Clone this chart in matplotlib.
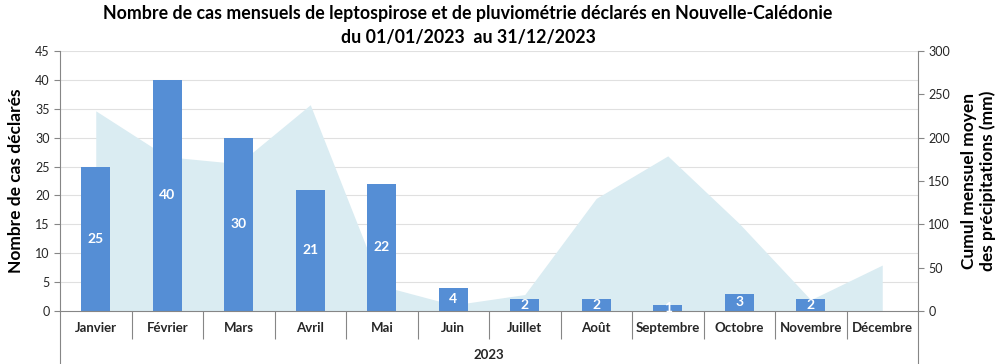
import numpy as np
import matplotlib.pyplot as plt

mois = ['Janvier', 'Février', 'Mars', 'Avril', 'Mai', 'Juin', 'Juillet',
        'Août', 'Septembre', 'Octobre', 'Novembre', 'Décembre']
cas = [25, 40, 30, 21, 22, 4, 2, 2, 1, 3, 2, 0]
pluie = [231, 178, 170, 238, 29, 7, 19, 130, 179, 101, 13, 53]
annee = '2023'

plt.rcParams['font.family'] = ['Lato', 'DejaVu Sans']

fig = plt.figure(figsize=(10.02, 3.64), dpi=100)
ax = fig.add_axes([60/1002, 1-311/364, (918-60)/1002, 260/364])
ax2 = ax.twinx()
# bars above the area
ax.set_zorder(ax2.get_zorder() + 1)
ax.patch.set_visible(False)

x = np.arange(len(mois))
ax2.fill_between(x, pluie, 0, color='#daecf2', lw=0, zorder=1)
ax2.set_ylim(0, 300)
ax2.set_yticks(np.arange(0, 301, 50))

ax.set_ylim(0, 45)
ax.set_yticks(np.arange(0, 46, 5))
ax.set_xlim(-0.5, len(mois) - 0.5)
# horizontal grid behind the area, at the left-axis ticks
for t in ax.get_yticks()[1:]:
    ax2.axhline(t * 300 / 45, color='#e0e0e0', lw=0.8, zorder=0)

bars = ax.bar(x, cas, width=0.4, color='#558ed5', zorder=2)
for b, v in zip(bars, cas):
    if v > 0:
        ax.text(b.get_x() + b.get_width()/2, v/2, str(v), ha='center', va='center',
                color='white', fontsize=10, fontweight='bold', zorder=3)

grey = '#868686'
for a in (ax, ax2):
    a.spines['top'].set_visible(False)
    a.spines['left'].set_color(grey)
    a.spines['right'].set_color(grey)
    a.spines['bottom'].set_color(grey)
    a.tick_params(axis='y', colors=grey, labelcolor='#262626', labelsize=9, length=4)
ax.spines['right'].set_visible(False)
ax2.spines['left'].set_visible(False)
ax2.spines['bottom'].set_visible(False)

# category axis: ticks between categories, labels at centres
ax.set_xticks(np.arange(0.5, len(mois) - 1, 1))
ax.set_xticklabels([])
ax.tick_params(axis='x', which='major', direction='out', length=20, color=grey)
ax.set_xticks(x, minor=True)
ax.set_xticklabels(mois, minor=True, fontsize=9.5, fontweight='bold', color='#262626')
ax.tick_params(axis='x', which='minor', length=0, pad=8)

# spines carried down to the bottom of the figure
for xs in (0, 1):
    ax.plot([xs, xs], [0, -0.205], transform=ax.transAxes, color=grey, lw=0.8,
            clip_on=False)
ax.text(0.5, -0.17, annee, transform=ax.transAxes, ha='center', va='center',
        fontsize=9.5, fontweight='bold', color='#262626')

ax.set_ylabel('Nombre de cas déclarés', fontsize=12.5, fontweight='bold', labelpad=8)
ax2.set_ylabel('Cumul mensuel moyen\ndes précipitations (mm)', fontsize=12.5,
               fontweight='bold', labelpad=8, linespacing=1.15)

fig.text(468/1002, 1-14/364, 'Nombre de cas mensuels de leptospirose et de pluviométrie déclarés en Nouvelle-Calédonie',
         ha='center', va='center', fontsize=12.8, fontweight='bold')
fig.text(468/1002, 1-37/364, 'du 01/01/2023  au 31/12/2023',
         ha='center', va='center', fontsize=12.8, fontweight='bold')

fig.savefig('out.png', dpi=100)
